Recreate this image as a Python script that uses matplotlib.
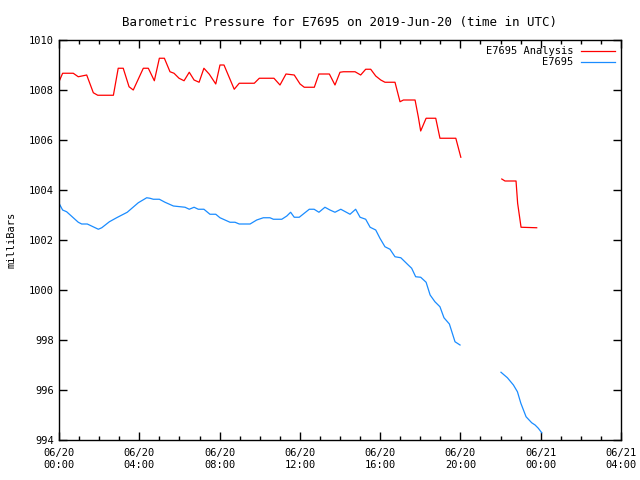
import numpy as np
import matplotlib.pyplot as plt
from matplotlib.ticker import MultipleLocator

# hours since 2019-06-20 00:00 UTC
anaHours = [0.0, 0.18, 0.71, 0.96, 1.38, 1.71, 1.93, 2.71, 2.95, 3.20, 3.49, 3.70,
            4.20, 4.45, 4.75, 5.00, 5.25, 5.53, 5.73, 5.98, 6.23, 6.49, 6.73, 6.98,
            7.22, 7.49, 7.81, 8.02, 8.22, 8.73, 8.98, 9.73, 9.98, 10.71, 11.01, 11.31,
            11.72, 12.01, 12.22, 12.72, 12.95, 13.47, 13.75, 14.00, 14.17, 14.75, 15.03,
            15.28, 15.53, 15.78, 16.03, 16.24, 16.74, 16.99, 17.16, 17.74, 17.90, 18.02,
            18.29, 18.77, 18.98, 19.77, 20.02,
            21.0,
            22.06, 22.22, 22.77, 22.85, 23.02, 23.80]
anaValues = [1008.33, 1008.67, 1008.67, 1008.53, 1008.60, 1007.89, 1007.79, 1007.79,
             1008.87, 1008.87, 1008.13, 1008.00, 1008.87, 1008.87, 1008.37, 1009.27,
             1009.27, 1008.73, 1008.67, 1008.47, 1008.37, 1008.71, 1008.40, 1008.31,
             1008.87, 1008.63, 1008.24, 1009.00, 1009.00, 1008.03, 1008.27, 1008.27,
             1008.47, 1008.47, 1008.20, 1008.64, 1008.60, 1008.24, 1008.11, 1008.11,
             1008.64, 1008.64, 1008.20, 1008.71, 1008.73, 1008.73, 1008.60, 1008.83,
             1008.83, 1008.56, 1008.40, 1008.31, 1008.31, 1007.53, 1007.60, 1007.60,
             1006.93, 1006.36, 1006.87, 1006.87, 1006.07, 1006.07, 1005.31,
             np.nan,
             1004.44, 1004.36, 1004.36, 1003.47, 1002.51, 1002.49]

obsHours = [0.0, 0.18, 0.38, 0.96, 1.13, 1.41, 1.96, 2.13, 2.51, 2.87, 3.40, 3.95,
            4.37, 4.53, 4.70, 5.00, 5.28, 5.70, 6.28, 6.49, 6.73, 6.94, 7.22, 7.52,
            7.81, 8.02, 8.52, 8.77, 8.98, 9.52, 9.85, 10.18, 10.51, 10.68, 11.10, 11.35,
            11.54, 11.72, 11.97, 12.47, 12.71, 12.95, 13.25, 13.50, 13.75, 14.04, 14.50,
            14.78, 15.00, 15.28, 15.50, 15.78, 15.99, 16.24, 16.49, 16.74, 17.03, 17.40,
            17.57, 17.77, 18.02, 18.29, 18.49, 18.73, 18.98, 19.18, 19.45, 19.73, 19.98,
            21.0,
            22.02, 22.34, 22.64, 22.84, 23.01, 23.27, 23.55, 23.72, 23.88, 24.05]
obsValues = [1003.47, 1003.20, 1003.13, 1002.71, 1002.64, 1002.64, 1002.43, 1002.49,
             1002.73, 1002.89, 1003.11, 1003.49, 1003.69, 1003.67, 1003.63, 1003.63,
             1003.51, 1003.36, 1003.31, 1003.23, 1003.31, 1003.23, 1003.23, 1003.03,
             1003.03, 1002.89, 1002.71, 1002.71, 1002.64, 1002.64, 1002.80, 1002.89,
             1002.89, 1002.83, 1002.83, 1002.96, 1003.11, 1002.91, 1002.91, 1003.23,
             1003.23, 1003.11, 1003.31, 1003.20, 1003.11, 1003.23, 1003.03, 1003.23,
             1002.91, 1002.83, 1002.51, 1002.40, 1002.07, 1001.73, 1001.63, 1001.33,
             1001.29, 1001.00, 1000.87, 1000.53, 1000.51, 1000.31, 999.80, 999.53,
             999.33, 998.89, 998.64, 997.93, 997.80,
             np.nan,
             996.71, 996.49, 996.20, 995.93, 995.47, 994.93, 994.69, 994.60, 994.47, 994.29]

tickHours = [0, 4, 8, 12, 16, 20, 24, 28]
tickLabels = ["06/20\n00:00", "06/20\n04:00", "06/20\n08:00", "06/20\n12:00",
              "06/20\n16:00", "06/20\n20:00", "06/21\n00:00", "06/21\n04:00"]

plt.rcParams['font.family'] = 'DejaVu Sans Mono'
plt.rcParams['font.size'] = 7.5

fig = plt.figure(figsize=(6.4, 4.8), dpi=100)
ax = fig.add_axes([59/640, 40/480, 562/640, 400/480])

ax.plot(anaHours, anaValues, color='#ff0000', lw=0.9, label='E7695 Analysis')
ax.plot(obsHours, obsValues, color='#1a8cff', lw=0.9, label='E7695')

ax.set_xlim(0, 28)
ax.set_ylim(994, 1010)
ax.set_xticks(tickHours)
ax.set_xticklabels(tickLabels)
ax.xaxis.set_minor_locator(MultipleLocator(1))
ax.yaxis.set_major_locator(MultipleLocator(2))
ax.tick_params(which='both', direction='in', top=True, right=True, color='black')
ax.tick_params(which='major', length=6, width=1)
ax.tick_params(which='minor', length=3, width=1)
ax.tick_params(axis='x', pad=6)
for s in ax.spines.values():
    s.set_linewidth(1.0)

ax.set_ylabel('milliBars', labelpad=9)
ax.set_title('Barometric Pressure for E7695 on 2019-Jun-20 (time in UTC)', pad=10)
ax.legend(loc='upper right', frameon=False, markerfirst=False, handlelength=3.2,
          borderaxespad=0.2, labelspacing=0.1, handletextpad=0.8)

plt.savefig('out.png', dpi=100)
plt.close()
